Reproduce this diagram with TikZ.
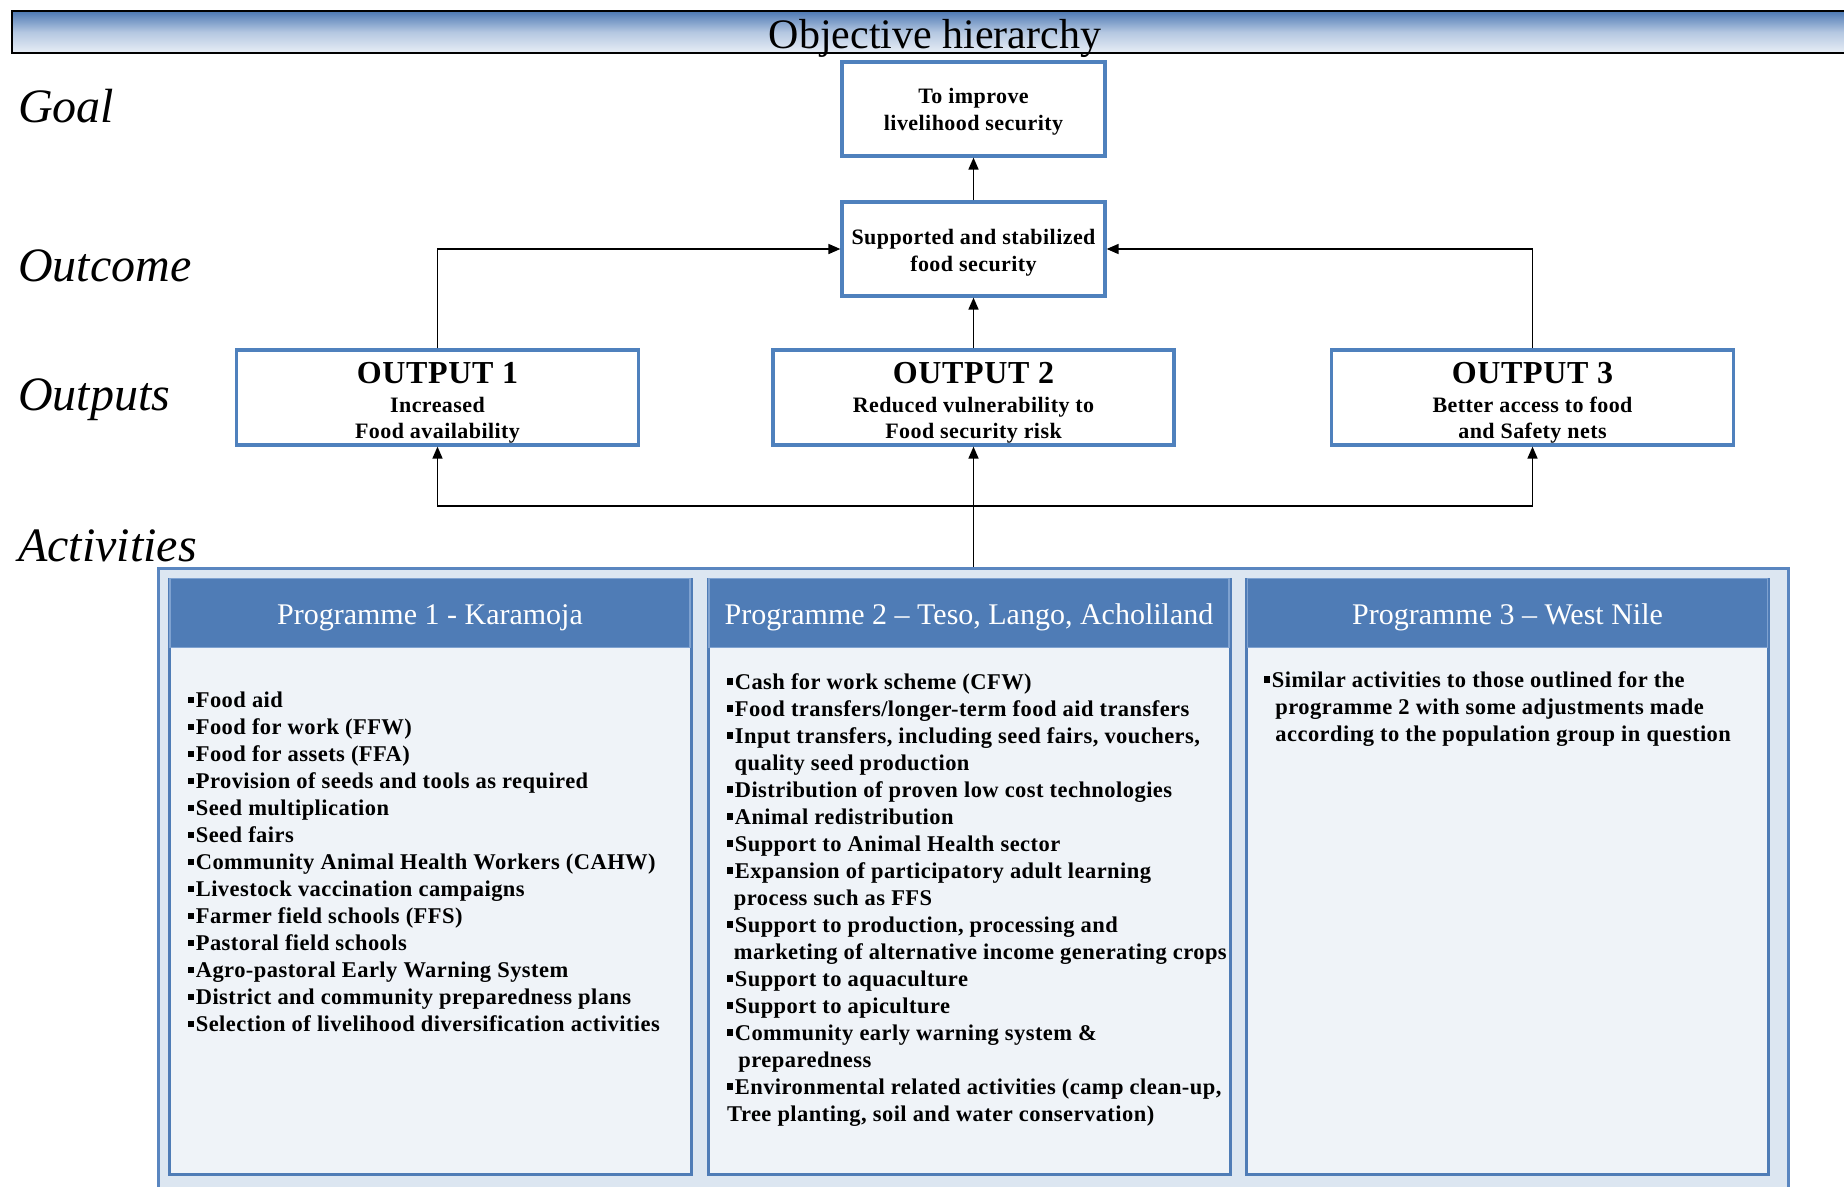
\documentclass[tikz,border=0pt]{standalone}
\usepackage{fontspec}
\setmainfont{Liberation Serif}
\newfontfamily\bodyf[LetterSpace=2.0]{Liberation Serif}
\usetikzlibrary{arrows.meta}
\definecolor{boxblue}{HTML}{4F81BD}
\definecolor{hdrblue}{HTML}{4F7CB6}
\definecolor{hdredge}{HTML}{7FA2D0}
\definecolor{bodyfill}{HTML}{EFF3F8}
\definecolor{outerfill}{HTML}{DCE6F1}
\definecolor{outerblue}{HTML}{5A86C0}
\definecolor{barTop}{HTML}{4C78B3}
\definecolor{barMid}{HTML}{B4C7E1}
\definecolor{barBot}{HTML}{E8EEF6}
\newcommand\itm{\rule[0.2em]{0.24em}{0.27em}\hspace{0.1em}}
\begin{document}
\begin{tikzpicture}[x=1pt,y=-1pt,
  conn/.style={line width=1.6pt, draw=black},
  arr/.style={conn, -{Triangle[length=12pt,width=10pt]}},
  obox/.style={draw=boxblue, line width=3.2pt, fill=white, align=center, inner sep=0pt,
    font=\bodyf\fontsize{22}{26.5}\selectfont\bfseries},
  side/.style={anchor=base west, inner sep=0pt, font=\fontsize{48}{48}\selectfont\itshape},
  panel/.style={draw=hdrblue, line width=3pt, fill=bodyfill, inner sep=0pt, minimum width=522pt},
  phead/.style={fill=hdrblue, draw=hdredge, line width=1.2pt, text=white, inner sep=0pt,
    minimum width=520pt, minimum height=69pt, text height=23pt, text depth=0pt,
    font=\fontsize{30}{32}\selectfont},
  plist/.style={anchor=north west, inner sep=0pt, align=left,
    font=\bodyf\fontsize{22.5}{27}\selectfont\bfseries},
]
\useasboundingbox (0,0) rectangle (1844,1186);
\fill[white] (0,0) rectangle (1844,1186);

% title bar
\shade[top color=barTop, bottom color=barBot, middle color=barMid, draw=black, line width=1.5pt]
  (12,11) rectangle (1870,53);
\node[anchor=base, inner sep=0pt, font=\fontsize{42}{42}\selectfont] (title) at (935,48) {Objective hierarchy};

% side labels
\node[side] (lgoal) at (18,122) {Goal};
\node[side] (loutcome) at (18,281) {Outcome};
\node[side] (loutputs) at (18,410) {Outputs};
\node[side] (lacts) at (18,561) {Activities};

% hierarchy boxes
\node[obox, minimum width=263pt, minimum height=94pt] (goal) at (973.5,109)
  {\rule{0pt}{21pt}To improve\\livelihood security};
\node[obox, minimum width=263pt, minimum height=94pt] (outcome) at (973.5,249)
  {\rule{0pt}{22.5pt}Supported and stabilized\\food security};
\node[obox, minimum width=402pt, minimum height=95pt] (out1) at (437.5,397.5)
  {{\fontsize{32}{32}\selectfont\rule{0pt}{32pt}OUTPUT 1}\\[2pt]Increased\\Food availability};
\node[obox, minimum width=401pt, minimum height=95pt] (out2) at (973.5,397.5)
  {{\fontsize{32}{32}\selectfont\rule{0pt}{32pt}OUTPUT 2}\\[2pt]Reduced vulnerability to\\Food security risk};
\node[obox, minimum width=402pt, minimum height=95pt] (out3) at (1532.5,397.5)
  {{\fontsize{32}{32}\selectfont\rule{0pt}{32pt}OUTPUT 3}\\[2pt]Better access to food\\and Safety nets};

% activities container
\node[draw=outerblue, line width=2.5pt, fill=outerfill, inner sep=0pt, anchor=north,
  minimum width=1630pt, minimum height=650pt] (acts) at (973.5,567) {};

\node[panel, minimum height=595pt, anchor=north] (p1) at (430,578) {};
\node[panel, minimum height=595pt, anchor=north] (p2) at (969,578) {};
\node[panel, minimum height=595pt, anchor=north] (p3) at (1507.5,578) {};
\node[phead, anchor=north] (h1) at (p1.north) {Programme 1 - Karamoja};
\node[phead, anchor=north] (h2) at (p2.north) {Programme 2 – Teso, Lango, Acholiland};
\node[phead, anchor=north] (h3) at (p3.north) {Programme 3 – West Nile};

\node[plist] (l1) at (188,692) {%
\itm Food aid\\
\itm Food for work (FFW)\\
\itm Food for assets (FFA)\\
\itm Provision of seeds and tools as required\\
\itm Seed multiplication\\
\itm Seed fairs\\
\itm Community Animal Health Workers (CAHW)\\
\itm Livestock vaccination campaigns\\
\itm Farmer field schools (FFS)\\
\itm Pastoral field schools\\
\itm Agro-pastoral Early Warning System\\
\itm District and community preparedness plans\\
\itm Selection of livelihood diversification activities};

\node[plist] (l2) at (727,673) {%
\itm Cash for work scheme (CFW)\\
\itm Food transfers/longer-term food aid transfers\\
\itm Input transfers, including seed fairs, vouchers,\\
\hspace*{0.33em}quality seed production\\
\itm Distribution of proven low cost technologies\\
\itm Animal redistribution\\
\itm Support to Animal Health sector\\
\itm Expansion of participatory adult learning\\
\hspace*{0.3em}process such as FFS\\
\itm Support to production, processing and\\
\hspace*{0.3em}marketing of alternative income generating crops\\
\itm Support to aquaculture\\
\itm Support to apiculture\\
\itm Community early warning system \&\\
\hspace*{0.5em}preparedness\\
\itm Environmental related activities (camp clean-up,\\
Tree planting, soil and water conservation)};

\node[plist] (l3) at (1264,671) {%
\itm Similar activities to those outlined for the\\
\hspace*{0.5em}programme 2 with some adjustments made\\
\hspace*{0.5em}according to the population group in question};

% connectors
\draw[arr] (outcome.north) -- (goal.south);
\draw[arr] (out2.north) -- (outcome.south);
\draw[arr] (out1.north) |- (outcome.west);
\draw[arr] (out3.north) |- (outcome.east);
\coordinate (hub) at (973.5,506);
\draw[conn] (acts.north) -- (hub);
\draw[arr] (hub) -- (out2.south);
\draw[arr] (hub) -| (out1.south);
\draw[arr] (hub) -| (out3.south);
\end{tikzpicture}
\end{document}
